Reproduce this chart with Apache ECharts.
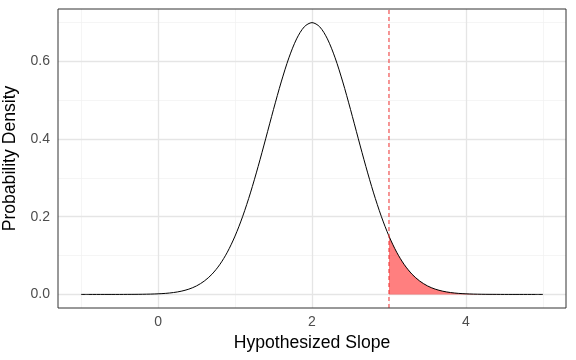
<!DOCTYPE html>
<html>
<head>
<meta charset="utf-8">
<script src="https://cdn.jsdelivr.net/npm/echarts@6/dist/echarts.min.js"></script>
<style>
html,body{margin:0;padding:0;background:#fff;}
#chart{width:576px;height:360px;}
</style>
</head>
<body>
<div id="chart"></div>
<script>
// Hypothesized slope values (x) and probability density (y)
var slopes = [-1.0,-0.9,-0.8,-0.7,-0.6,-0.5,-0.4,-0.3,-0.2,-0.1,
  0.0,0.1,0.2,0.3,0.4,0.5,0.6,0.7,0.8,0.9,
  1.0,1.1,1.2,1.3,1.4,1.5,1.6,1.7,1.8,1.9,
  2.0,2.1,2.2,2.3,2.4,2.5,2.6,2.7,2.8,2.9,
  3.0,3.1,3.2,3.3,3.4,3.5,3.6,3.7,3.8,3.9,
  4.0,4.1,4.2,4.3,4.4,4.5,4.6,4.7,4.8,4.9,5.0];
var density = [0.0000,0.0000,0.0000,0.0000,0.0000,0.0000,0.0001,0.0002,0.0004,0.0008,
  0.0015,0.0027,0.0048,0.0082,0.0136,0.0219,0.0343,0.0519,0.0763,0.1087,
  0.1502,0.2012,0.2614,0.3293,0.4022,0.4764,0.5471,0.6094,0.6581,0.6892,
  0.6999,0.6892,0.6581,0.6094,0.5471,0.4764,0.4022,0.3293,0.2614,0.2012,
  0.1502,0.1087,0.0763,0.0519,0.0343,0.0219,0.0136,0.0082,0.0048,0.0027,
  0.0015,0.0008,0.0004,0.0002,0.0001,0.0000,0.0000,0.0000,0.0000,0.0000,0.0000];
var observedSlope = 3;
var xMajorTicks = [0, 2, 4];
var xMinorTicks = [-1, 1, 3, 5];
var yMajorTicks = [0, 0.2, 0.4, 0.6];
var yMinorTicks = [0.1, 0.3, 0.5, 0.7];
var xLimits = [-1.3, 5.3];
var yLimits = [-0.035, 0.735];

var curve = slopes.map(function(x, i){ return [x, density[i]]; });
var tail = curve.filter(function(p){ return p[0] >= observedSlope - 1e-9; });
var refLine = [[observedSlope, yLimits[0]], [observedSlope, yLimits[1]]];

function vLines(vals){ return vals.map(function(v){ return {xAxis: v}; }); }
function hLines(vals){ return vals.map(function(v){ return {yAxis: v}; }); }

var chart = echarts.init(document.getElementById('chart'), null, {renderer: 'canvas'});
var font = '"Liberation Sans", Arial, Helvetica, sans-serif';
var dashColor = '#F03030';
chart.setOption({
  animation: false,
  backgroundColor: '#ffffff',
  grid: {left: 58, right: 10, top: 9, bottom: 52, show: true, containLabel: false, outerBoundsMode: 'none',
    borderColor: '#333333', borderWidth: 1, backgroundColor: 'transparent', z: 10},
  xAxis: {
    type: 'value', min: xLimits[0], max: xLimits[1],
    name: 'Hypothesized Slope', nameLocation: 'middle', nameGap: 24,
    nameTextStyle: {fontFamily: font, fontSize: 17.6, color: '#000'},
    axisLine: {show: false},
    splitLine: {show: false},
    axisTick: {show: true, length: 4, customValues: xMajorTicks, lineStyle: {color: '#333333', width: 1}},
    axisLabel: {customValues: xMajorTicks, margin: 7, fontFamily: font, fontSize: 14, color: '#4D4D4D',
      formatter: function(v){ return String(v); }}
  },
  yAxis: {
    type: 'value', min: yLimits[0], max: yLimits[1],
    name: 'Probability Density', nameLocation: 'middle', nameGap: 34, nameRotate: 90,
    nameTextStyle: {fontFamily: font, fontSize: 17.6, color: '#000'},
    axisLine: {show: false},
    splitLine: {show: false},
    axisTick: {show: true, length: 4, customValues: yMajorTicks, lineStyle: {color: '#333333', width: 1}},
    axisLabel: {customValues: yMajorTicks, margin: 8, fontFamily: font, fontSize: 14, color: '#4D4D4D',
      formatter: function(v){ return v.toFixed(1); }}
  },
  series: [
    {type: 'line', data: [], silent: true, z: 0,
      markLine: {silent: true, z: 0, symbol: ['none','none'], label: {show: false}, animation: false,
        lineStyle: {color: '#F0F0F0', width: 0.7, type: 'solid'},
        data: vLines(xMinorTicks).concat(hLines(yMinorTicks))}},
    {type: 'line', data: [], silent: true, z: 1,
      markLine: {silent: true, z: 1, symbol: ['none','none'], label: {show: false}, animation: false,
        lineStyle: {color: '#E5E5E5', width: 1.3, type: 'solid'},
        data: vLines(xMajorTicks).concat(hLines(yMajorTicks))}},
    {type: 'line', data: tail, showSymbol: false, symbol: 'none', z: 3,
      lineStyle: {width: 0, opacity: 0},
      areaStyle: {color: 'rgba(255,0,0,0.5)', opacity: 1, origin: 0}},
    {type: 'line', data: curve, showSymbol: false, symbol: 'none', smooth: 0.3, z: 4,
      lineStyle: {color: '#000000', width: 1}},
    {type: 'line', data: refLine, showSymbol: false, symbol: 'none', z: 6, silent: true,
      lineStyle: {color: dashColor, width: 1, type: [4, 3]}}
  ]
});
</script>
</body>
</html>
